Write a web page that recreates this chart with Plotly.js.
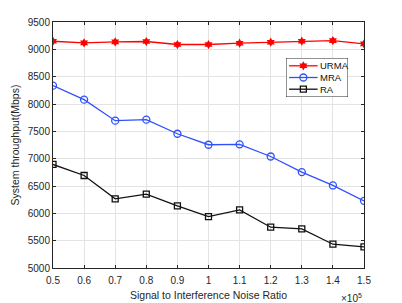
<!DOCTYPE html>
<html><head><meta charset="utf-8">
<script src="https://cdn.plot.ly/plotly-3.0.1.min.js"></script>
<style>html,body{margin:0;padding:0;background:#fff}#c{width:402px;height:303px}</style>
</head><body><div id="c"></div>
<script>
const sinr = [0.5, 0.6, 0.7, 0.8, 0.9, 1.0, 1.1, 1.2, 1.3, 1.4, 1.5];
const urma = [9148, 9119, 9137, 9143, 9088, 9088, 9112, 9130, 9148, 9160, 9100];
const mra  = [8336, 8080, 7695, 7713, 7456, 7255, 7262, 7040, 6754, 6510, 6228];
const ra   = [6894, 6692, 6265, 6351, 6137, 5941, 6063, 5746, 5716, 5435, 5385];
const seriesNames = ['URMA', 'MRA', 'RA'];
const xTickVals = [0.5, 0.6, 0.7, 0.8, 0.9, 1.0, 1.1, 1.2, 1.3, 1.4, 1.5];
const xTickText = ['0.5','0.6','0.7','0.8','0.9','1','1.1','1.2','1.3','1.4','1.5'];
const yTickVals = [5000, 5500, 6000, 6500, 7000, 7500, 8000, 8500, 9000, 9500];

const FONT = 'Liberation Sans, Arial, sans-serif';
const styles = [
  {line: {color: '#ff0000', width: 1.3}, marker: {symbol: 'hexagram', size: 7, color: '#ff0000'}},
  {line: {color: '#3050ff', width: 1.3}, marker: {symbol: 'circle-open', size: 7, color: '#3050ff', line: {width: 1.3}}},
  {line: {color: '#111111', width: 1.3}, marker: {symbol: 'square-open', size: 6, color: '#111111', line: {width: 1.3}}}
];
const dataSets = [urma, mra, ra];

const traces = dataSets.map((ys, i) => Object.assign({
  x: sinr, y: ys, name: seriesNames[i], mode: 'lines+markers', showlegend: false
}, styles[i]));

// Legend drawn on an overlay axis pair (0..1 box coordinates)
const legRowY = [0.8, 0.5, 0.2];
seriesNames.forEach((n, i) => {
  traces.push({
    x: [0.05, 0.28, 0.51], y: [legRowY[i], legRowY[i], legRowY[i]],
    xaxis: 'x2', yaxis: 'y2', mode: 'lines', showlegend: false, hoverinfo: 'skip',
    line: styles[i].line
  });
  traces.push({
    x: [0.28], y: [legRowY[i]], xaxis: 'x2', yaxis: 'y2', mode: 'markers',
    showlegend: false, hoverinfo: 'skip', marker: styles[i].marker
  });
});

const axisCommon = {
  showline: true, mirror: 'ticks', linecolor: '#262626', linewidth: 1,
  ticks: 'inside', ticklen: 3, tickcolor: '#262626',
  showgrid: true, gridcolor: '#e3e3e3', gridwidth: 1, zeroline: false,
  tickfont: {family: FONT, size: 10, color: '#262626'}
};

// plot area px: x 53..364, y 22..268; legend box px: x 286..348, y 58..97
const legX0 = (286 - 53) / 311, legX1 = (348 - 53) / 311;
const legY1 = (268 - 58) / 246, legY0 = (268 - 97) / 246;

const layout = {
  width: 402, height: 303,
  margin: {l: 53, r: 38, t: 22, b: 35},
  paper_bgcolor: '#fff', plot_bgcolor: '#fff',
  showlegend: false,
  xaxis: Object.assign({}, axisCommon, {
    range: [0.5, 1.5], tickvals: xTickVals, ticktext: xTickText, ticklabelstandoff: 3,
    title: {text: 'Signal to Interference Noise Ratio', standoff: 6,
      font: {family: FONT, size: 10.5, color: '#262626'}}
  }),
  yaxis: Object.assign({}, axisCommon, {
    range: [5000, 9500], tickvals: yTickVals,
    title: {text: 'System throughput(Mbps)', standoff: 6,
      font: {family: FONT, size: 10.5, color: '#262626'}}
  }),
  xaxis2: {domain: [legX0, legX1], range: [0, 1], anchor: 'y2', visible: false, fixedrange: true},
  yaxis2: {domain: [legY0, legY1], range: [0, 1], anchor: 'x2', visible: false, fixedrange: true},
  shapes: [{
    type: 'rect', xref: 'x2', yref: 'y2', x0: 0, x1: 1, y0: 0, y1: 1,
    line: {color: '#262626', width: 1}, fillcolor: '#ffffff', layer: 'below'
  }],
  annotations: seriesNames.map((n, i) => ({
    xref: 'x2', yref: 'y2', x: 0.52, y: legRowY[i], xanchor: 'left', yanchor: 'middle',
    showarrow: false, text: n, font: {family: FONT, size: 9.5, color: '#111'}
  })).concat([{
    xref: 'paper', yref: 'paper', x: 1.0, y: 0, xanchor: 'right', yanchor: 'top',
    yshift: -22, showarrow: false,
    text: '×10<sup>5</sup>',
    font: {family: FONT, size: 10, color: '#262626'}
  }])
};

Plotly.newPlot('c', traces, layout, {displayModeBar: false, staticPlot: true});
</script>
</body></html>
